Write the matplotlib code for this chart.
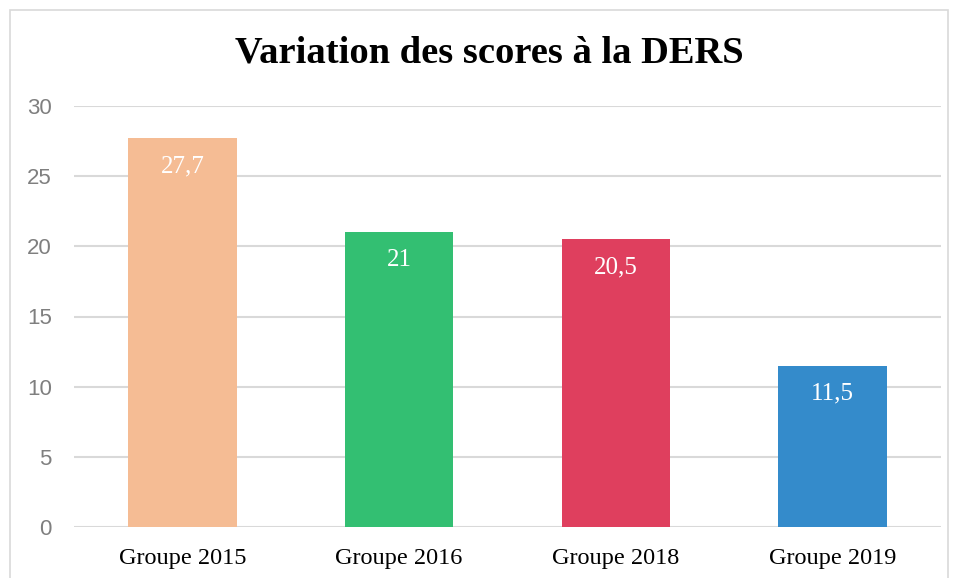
import matplotlib
matplotlib.use("Agg")
import matplotlib.pyplot as plt
from matplotlib.patches import Rectangle

categories = ["Groupe 2015", "Groupe 2016", "Groupe 2018", "Groupe 2019"]
values = [27.7, 21, 20.5, 11.5]
labels = ["27,7", "21", "20,5", "11,5"]
colors = ["#F5BC94", "#33BF72", "#DF3F5E", "#348BCB"]
yticks = [0, 5, 10, 15, 20, 25, 30]

W, H = 958, 578
fig = plt.figure(figsize=(W/100, H/100), dpi=100)
fig.patches.append(Rectangle((9.5/W, -0.05), (948-9.5)/W, 1.05 - 9.5/H + 0.0,
                             transform=fig.transFigure, fill=False,
                             edgecolor="#D9D9D9", linewidth=1.2))
ax = fig.add_axes([74/W, 1-527/H, (941-74)/W, (527-106)/H])
x = range(len(categories))
ax.bar(x, values, width=0.5, color=colors, zorder=3)
for xi, v, lab in zip(x, values, labels):
    ax.text(xi, v - 2.0, lab, ha="center", va="center", color="white",
            fontsize=18, family="Liberation Serif", zorder=4)
ax.set_xlim(-0.5, len(categories) - 0.5)
ax.set_ylim(0, 30)
ax.set_yticks(yticks)
ax.set_yticklabels([str(t) for t in yticks], fontsize=16, color="#7F7F7F",
                   family="Liberation Sans")
ax.set_xticks(list(x))
ax.set_xticklabels(categories, fontsize=17.5, family="Liberation Serif", color="black")
ax.yaxis.grid(True, color="#D9D9D9", linewidth=1.5, zorder=0)
ax.set_axisbelow(True)
for s in ax.spines.values():
    s.set_visible(False)
ax.tick_params(axis="both", length=0)
ax.tick_params(axis="y", pad=16)
ax.tick_params(axis="x", pad=15)
fig.text(489/W, 1-53/H, "Variation des scores à la DERS", ha="center", va="center",
         fontsize=27.7, fontweight="bold", family="Liberation Serif")
fig.savefig("out.png", dpi=100)
